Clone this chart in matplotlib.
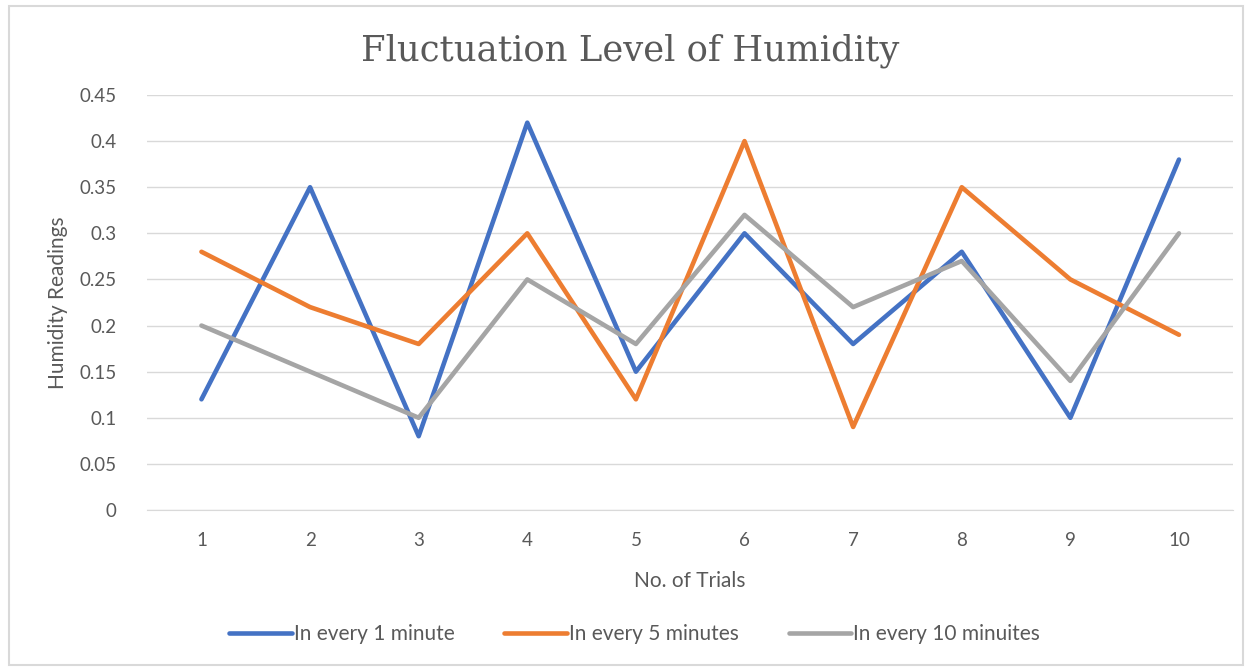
import matplotlib.pyplot as plt
from matplotlib.patches import Rectangle

trials = [1, 2, 3, 4, 5, 6, 7, 8, 9, 10]
every_1_min = [0.12, 0.35, 0.08, 0.42, 0.15, 0.30, 0.18, 0.28, 0.10, 0.38]
every_5_min = [0.28, 0.22, 0.18, 0.30, 0.12, 0.40, 0.09, 0.35, 0.25, 0.19]
every_10_min = [0.20, 0.15, 0.10, 0.25, 0.18, 0.32, 0.22, 0.27, 0.14, 0.30]
y_ticks = [0, 0.05, 0.1, 0.15, 0.2, 0.25, 0.3, 0.35, 0.4, 0.45]
y_labels = ["0", "0.05", "0.1", "0.15", "0.2", "0.25", "0.3", "0.35", "0.4", "0.45"]

plt.rcParams['font.family'] = ['Lato', 'DejaVu Sans']
text_col = '#595959'

fig = plt.figure(figsize=(12.47, 6.69), dpi=100)
fig.patches.append(Rectangle((0.007, 0.006), 0.99, 0.985, transform=fig.transFigure,
                             fill=False, edgecolor='#d9d9d9', linewidth=1.5))
ax = fig.add_axes([0.118, 0.2377, 0.871, 0.6203])

ax.plot(trials, every_1_min, color='#4472c4', linewidth=3.3, solid_capstyle='round',
        label='In every 1 minute')
ax.plot(trials, every_5_min, color='#ed7d31', linewidth=3.3, solid_capstyle='round',
        label='In every 5 minutes')
ax.plot(trials, every_10_min, color='#a5a5a5', linewidth=3.3, solid_capstyle='round',
        label='In every 10 minuites')

ax.set_xlim(0.5, 10.5)
ax.set_ylim(0, 0.45)
ax.set_xticks(trials)
ax.set_yticks(y_ticks)
ax.set_yticklabels(y_labels)
ax.grid(axis='y', color='#d9d9d9', linewidth=1)
ax.set_axisbelow(True)
for s in ['top', 'right', 'left']:
    ax.spines[s].set_visible(False)
ax.spines['bottom'].set_color('#d9d9d9')
ax.tick_params(length=0, labelsize=13.5, labelcolor=text_col, pad=16)
ax.tick_params(axis='y', pad=22)

ax.set_xlabel('No. of Trials', fontsize=15, color=text_col, labelpad=16)
ax.set_ylabel('Humidity Readings', fontsize=15, color=text_col, labelpad=8)
fig.text(0.505, 0.924, 'Fluctuation Level of Humidity', ha='center', va='center',
         fontsize=25.5, color=text_col, family='DejaVu Serif')

ax.legend(loc='center', bbox_to_anchor=(0.509, 0.052), bbox_transform=fig.transFigure,
          ncol=3, frameon=False, fontsize=15, labelcolor=text_col,
          handlelength=3.0, handletextpad=0.1, columnspacing=2.4)

fig.savefig('out.png', dpi=100)
